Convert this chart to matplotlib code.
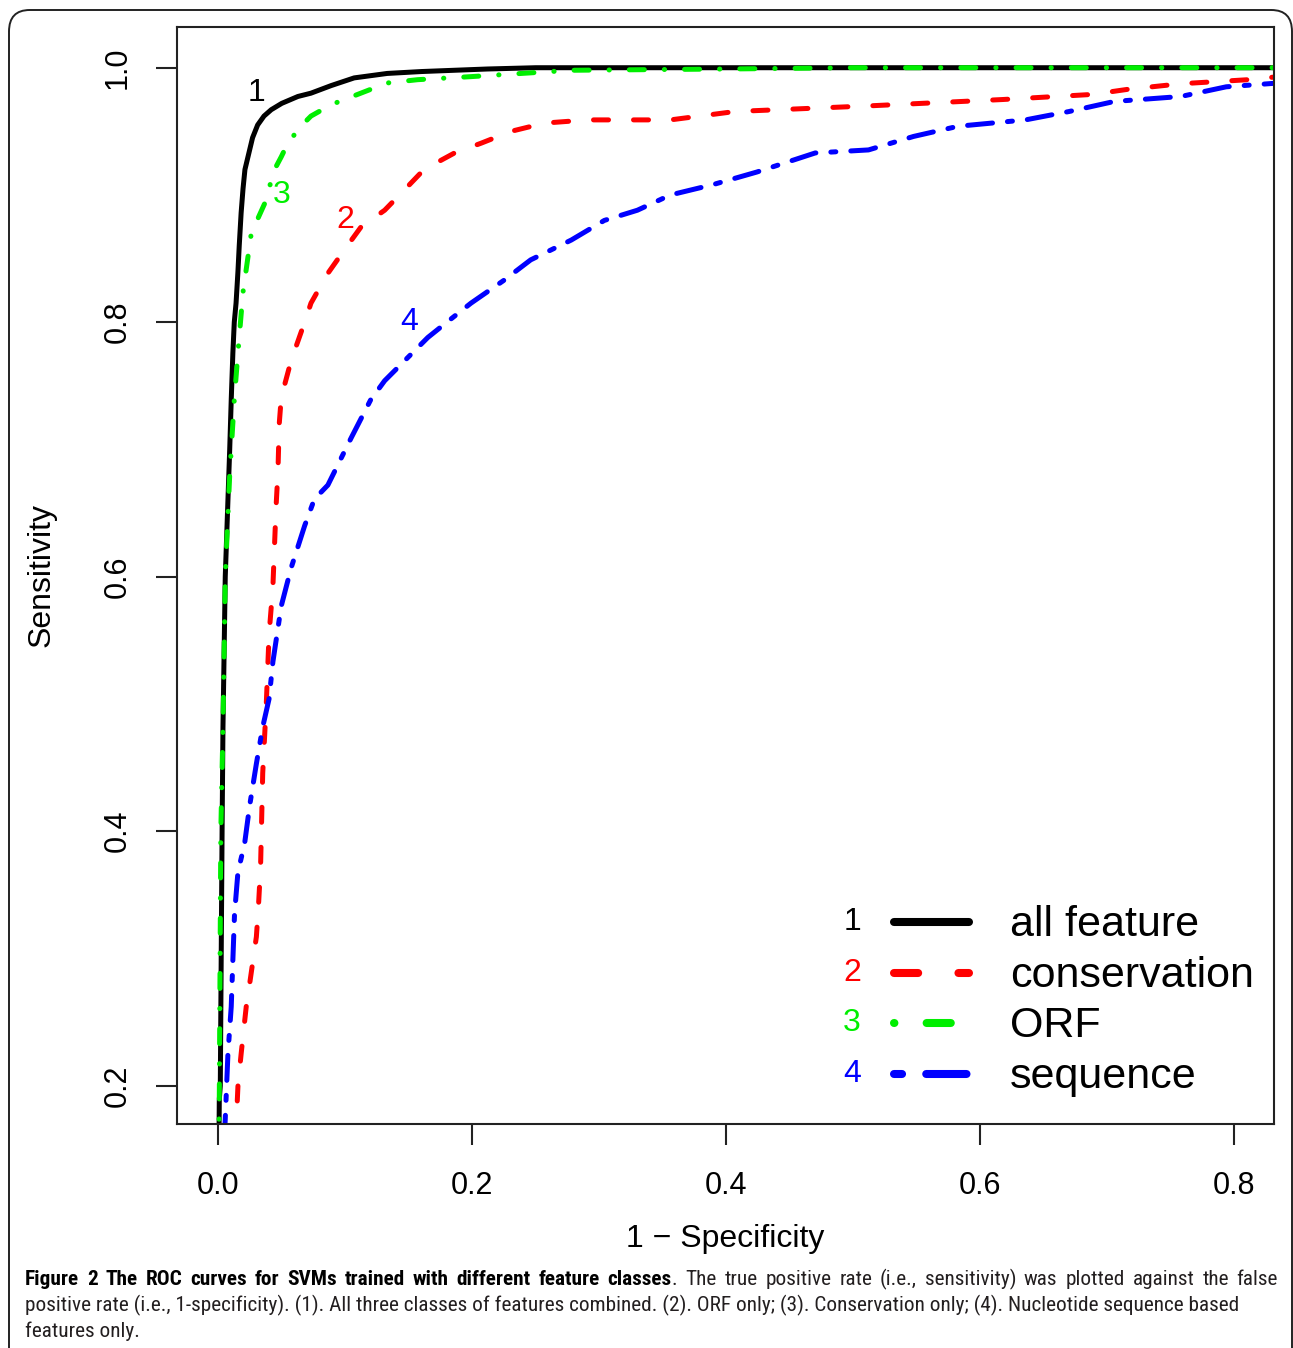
import matplotlib
matplotlib.use('Agg')
import matplotlib.pyplot as plt
from matplotlib.patches import FancyBboxPatch
from matplotlib.lines import Line2D

# ---------------- data ----------------
fpr_all = [0.0, 0.0005, 0.0008, 0.0016, 0.003, 0.0037, 0.0055, 0.009, 0.0102, 0.0115,
           0.0126, 0.014, 0.0155, 0.0165, 0.018, 0.0195, 0.021, 0.0234, 0.027, 0.031,
           0.036, 0.0417, 0.05, 0.0627, 0.073, 0.089, 0.107, 0.133, 0.16, 0.212,
           0.25, 0.4, 1.0]
tpr_all = [0.0, 0.15, 0.189, 0.2, 0.4, 0.482, 0.6, 0.7, 0.739, 0.776,
           0.80, 0.815, 0.84, 0.86, 0.886, 0.905, 0.92, 0.930, 0.945, 0.955,
           0.962, 0.967, 0.972, 0.9774, 0.980, 0.986, 0.992, 0.9955, 0.997, 0.999,
           1.0, 1.0, 1.0]

fpr_cons = [0.0, 0.012, 0.0142, 0.0155, 0.018, 0.022, 0.0247, 0.030, 0.0317, 0.0333,
            0.035, 0.0378, 0.040, 0.043, 0.0455, 0.047, 0.048, 0.0496, 0.0574, 0.068,
            0.073, 0.086, 0.0994, 0.1125, 0.131, 0.1466, 0.162, 0.186, 0.207, 0.2305,
            0.257, 0.291, 0.356, 0.407, 0.512, 0.6175, 0.688, 0.716, 0.758, 0.811,
            0.835, 1.0]
tpr_cons = [0.0, 0.14, 0.171, 0.20, 0.225, 0.262, 0.280, 0.317, 0.342, 0.372,
            0.4457, 0.50, 0.555, 0.592, 0.655, 0.683, 0.72, 0.741, 0.770, 0.80,
            0.815, 0.838, 0.857, 0.875, 0.888, 0.904, 0.92, 0.933, 0.9407, 0.95,
            0.9565, 0.959, 0.959, 0.9656, 0.970, 0.975, 0.979, 0.983, 0.9874, 0.9906,
            0.993, 1.0]

fpr_orf = [0.0, 0.0004, 0.0008, 0.002, 0.0037, 0.0055, 0.009, 0.0126, 0.0155, 0.0194,
           0.026, 0.0364, 0.0443, 0.0496, 0.0548, 0.065, 0.073, 0.089, 0.12, 0.133,
           0.157, 0.199, 0.278, 0.4, 0.5, 1.0]
tpr_orf = [0.0, 0.15, 0.189, 0.4, 0.482, 0.6, 0.68, 0.739, 0.776, 0.823,
           0.870, 0.893, 0.92, 0.930, 0.9407, 0.954, 0.962, 0.971, 0.983, 0.988,
           0.9906, 0.993, 0.998, 0.999, 1.0, 1.0]

fpr_seq = [0.0, 0.004, 0.0055, 0.0076, 0.0102, 0.0115, 0.0128, 0.0155, 0.0207, 0.0247,
           0.030, 0.035, 0.040, 0.043, 0.0496, 0.0574, 0.068, 0.0757, 0.0863, 0.1046,
           0.12, 0.131, 0.147, 0.165, 0.18, 0.199, 0.225, 0.246, 0.278, 0.304,
           0.33, 0.356, 0.389, 0.424, 0.47, 0.512, 0.5475, 0.5826, 0.6356, 0.67,
           0.7056, 0.758, 0.7937, 0.835, 1.0]
tpr_seq = [0.0, 0.14, 0.174, 0.225, 0.262, 0.299, 0.335, 0.368, 0.39, 0.42,
           0.453, 0.482, 0.504, 0.533, 0.577, 0.607, 0.64, 0.661, 0.672, 0.709,
           0.739, 0.754, 0.77, 0.788, 0.80, 0.815, 0.833, 0.849, 0.8646, 0.88,
           0.888, 0.90, 0.908, 0.918, 0.933, 0.9354, 0.946, 0.954, 0.959, 0.9656,
           0.9735, 0.9774, 0.985, 0.988, 1.0]

curve_nums = ['1', '2', '3', '4']
series_names = ['all feature', 'conservation', 'ORF', 'sequence']
curve_label_x = [0.03, 0.10, 0.05, 0.15]
curve_label_y = [0.98, 0.88, 0.90, 0.80]
xticks = [0.0, 0.2, 0.4, 0.6, 0.8]
yticks = [0.2, 0.4, 0.6, 0.8, 1.0]
xlabel = '1 \u2212 Specificity'
ylabel = 'Sensitivity'

cap_bold = "Figure 2 The ROC curves for SVMs trained with different feature classes"
cap_line1 = ". The true positive rate (i.e., sensitivity) was plotted against the false"
cap_line2 = ("positive rate (i.e., 1-specificity). (1). All three classes of features combined. "
             "(2). ORF only; (3). Conservation only; (4). Nucleotide sequence based")
cap_line3 = "features only."

# ---------------- style ----------------
plt.rcParams['font.family'] = ['Liberation Sans', 'DejaVu Sans']
W, H, DPI = 1293, 1348, 100
colors = ['#000000', '#FF0000', '#00EE00', '#0000FF']
dash_patterns = [None, (3, 5), (0.05, 4, 3, 4), (1, 3, 5, 3)]


def fx(px):
    return px / W


def fy(py):
    return 1 - py / H


fig = plt.figure(figsize=(W / DPI, H / DPI), dpi=DPI)
fig.patch.set_facecolor('white')

# outer rounded frame (journal figure box)
box = FancyBboxPatch((fx(9), fy(1400)), fx(1292) - fx(9), fy(10) - fy(1400),
                     boxstyle="round,pad=0,rounding_size=0.016",
                     transform=fig.transFigure, facecolor='none',
                     edgecolor='#222222', linewidth=1.4, zorder=0)
fig.add_artist(box)

ax = fig.add_axes([fx(177), fy(1124), fx(1274) - fx(177), fy(27) - fy(1124)])
ax.set_xlim(-0.0325, 0.8313)
ax.set_ylim(0.1699, 1.032)

series = [(fpr_all, tpr_all), (fpr_cons, tpr_cons), (fpr_orf, tpr_orf), (fpr_seq, tpr_seq)]
for (xs, ys), c, d in zip(series, colors, dash_patterns):
    if d is None:
        ax.plot(xs, ys, color=c, lw=3.6, solid_capstyle='round', solid_joinstyle='round')
    else:
        ax.plot(xs, ys, color=c, lw=3.6, dashes=d, dash_capstyle='round',
                dash_joinstyle='round')

for n, x, y, c in zip(curve_nums, curve_label_x, curve_label_y, colors):
    ax.text(x, y, n, color=c, fontsize=23, ha='center', va='center')

for s in ax.spines.values():
    s.set_linewidth(1.5)
    s.set_color('#222222')

ax.set_xticks(xticks, labels=[f'{v:.1f}' for v in xticks])
ax.set_yticks(yticks, labels=[f'{v:.1f}' for v in yticks])
ax.tick_params(direction='out', length=15, width=1.5, color='#222222',
               labelsize=22, pad=19)
ax.tick_params(axis='y', pad=17)
for lab in ax.get_yticklabels():
    lab.set_rotation(90)
    lab.set_va('center')
    lab.set_ha('right')

fig.text(fx(42), fy(575), ylabel, rotation=90, fontsize=23, ha='center', va='center')
fig.text(fx(725.5), fy(1247), xlabel, fontsize=23, ha='center', va='baseline')

# legend (drawn manually to mimic the R legend with numbered entries)
leg_rows = [922, 973, 1023, 1074]
for n, name, c, d, yl in zip(curve_nums, series_names, colors, dash_patterns, leg_rows):
    if d is None:
        ln = Line2D([fx(894), fx(969)], [fy(yl), fy(yl)], transform=fig.transFigure,
                    color=c, lw=5.8, solid_capstyle='round')
    else:
        ln = Line2D([fx(894), fx(969)], [fy(yl), fy(yl)], transform=fig.transFigure,
                    color=c, lw=5.8, dashes=d, dash_capstyle='round')
    fig.add_artist(ln)
    fig.text(fx(852), fy(yl), n, color=c, fontsize=23, ha='center', va='center')
    fig.text(fx(1010), fy(yl + 14), name, color='black', fontsize=31, ha='left',
             va='baseline')

# caption (justified first line, mixed bold / regular)
cap_family = ['Roboto Condensed', 'Liberation Sans Narrow', 'Open Sans', 'DejaVu Sans']
cap_color = '#231F20'
fig.canvas.draw()
r = fig.canvas.get_renderer()


def measure(txt, weight, size):
    t = fig.text(0, 0, txt, fontsize=size, fontweight=weight, family=cap_family)
    w = t.get_window_extent(r).width
    t.remove()
    return w


s0 = 14.0
w2 = measure(cap_line2, 'normal', s0)
s = s0 * 1222.0 / w2

# tokens of line 1: (text, weight, glued_to_previous)
tokens = [(w, 'bold', False) for w in cap_bold.split()]
reg = cap_line1.split()
tokens.append((reg[0], 'normal', True))          # "." glued to "classes"
tokens += [(w, 'normal', False) for w in reg[1:]]
widths = [measure(t, wt, s) for t, wt, _ in tokens]
n_gaps = sum(1 for _, _, g in tokens[1:] if not g)
gap = (1253.0 - sum(widths)) / n_gaps
xpos = 25.0
for i, ((t, wt, g), w) in enumerate(zip(tokens, widths)):
    if i > 0 and not g:
        xpos += gap
    fig.text(fx(xpos), fy(1285), t, fontsize=s, fontweight=wt, family=cap_family,
             ha='left', va='baseline', color='black' if wt == 'bold' else cap_color)
    xpos += w

fig.text(fx(25), fy(1311), cap_line2, fontsize=s, family=cap_family, ha='left',
         va='baseline', color=cap_color)
fig.text(fx(25), fy(1337), cap_line3, fontsize=s, family=cap_family, ha='left',
         va='baseline', color=cap_color)

fig.savefig('out.png', dpi=DPI, facecolor='white')
